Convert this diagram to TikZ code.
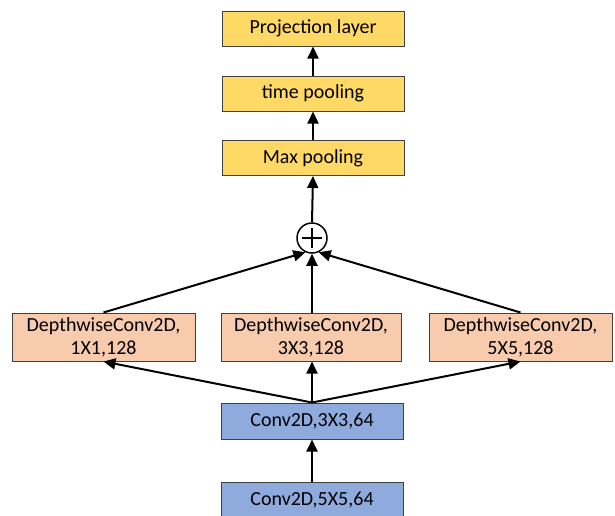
\documentclass[tikz,border=0pt]{standalone}
\usepackage{fontspec}
\setmainfont{Carlito}
\usetikzlibrary{arrows.meta}
\definecolor{ylw}{HTML}{FFD966}
\definecolor{org}{HTML}{F8CBAD}
\definecolor{blu}{HTML}{8FAADC}
\definecolor{edge}{HTML}{404040}
\tikzset{
  box/.style={draw=edge, line width=1pt, inner sep=0pt, align=center, font=\fontsize{20}{23}\selectfont},
  ybox/.style={box, fill=ylw, minimum width=182pt, minimum height=35pt},
  obox/.style={box, fill=org, minimum height=48pt},
  bbox/.style={box, fill=blu, minimum width=182pt, minimum height=36pt},
  arr/.style={line width=2pt, -{Triangle[length=12pt,width=11pt]}},
  ln/.style={line width=2pt}
}
\begin{document}
\begin{tikzpicture}[x=1pt,y=-1pt]
\useasboundingbox (0,0) rectangle (615,515);
\node[ybox] (proj) at (313,28.5) {Projection layer};
\node[ybox] (time) at (313,93.5) {time pooling};
\node[ybox] (maxp) at (313,158) {Max pooling};
\node[draw=black, line width=1.5pt, circle, minimum size=30pt, inner sep=0pt, fill=white] (sum) at (312,238) {};
\draw[line width=1.5pt] (sum.center) ++(-10,0) -- ++(20,0);
\draw[line width=1.5pt] (sum.center) ++(0,-10) -- ++(0,20);
\node[obox, minimum width=183pt] (d1) at (103.5,337) {DepthwiseConv2D,\\1X1,128};
\node[obox, minimum width=180pt] (d3) at (311,337) {DepthwiseConv2D,\\3X3,128};
\node[obox, minimum width=183pt] (d5) at (520.5,337) {DepthwiseConv2D,\\5X5,128};
\node[bbox] (c3) at (312,421) {Conv2D,3X3,64};
\node[bbox] (c5) at (312,500) {Conv2D,5X5,64};
\draw[arr] (c5.north) -- (c3.south);
\draw[arr] (c3.north) -- (d1.south);
\draw[arr] (c3.north) -- (d3.south -| c3.north);
\draw[arr] (c3.north) -- (d5.south);
\draw[arr] (d1.north) -- (sum.245);
\draw[arr] (d3.north -| sum.south) -- (sum.south);
\draw[arr] (d5.north) -- (sum.295);
\draw[arr] (sum.north) -- (maxp.south);
\draw[arr] (maxp.north) -- (time.south);
\draw[arr] (time.north) -- (proj.south);
\end{tikzpicture}
\end{document}
